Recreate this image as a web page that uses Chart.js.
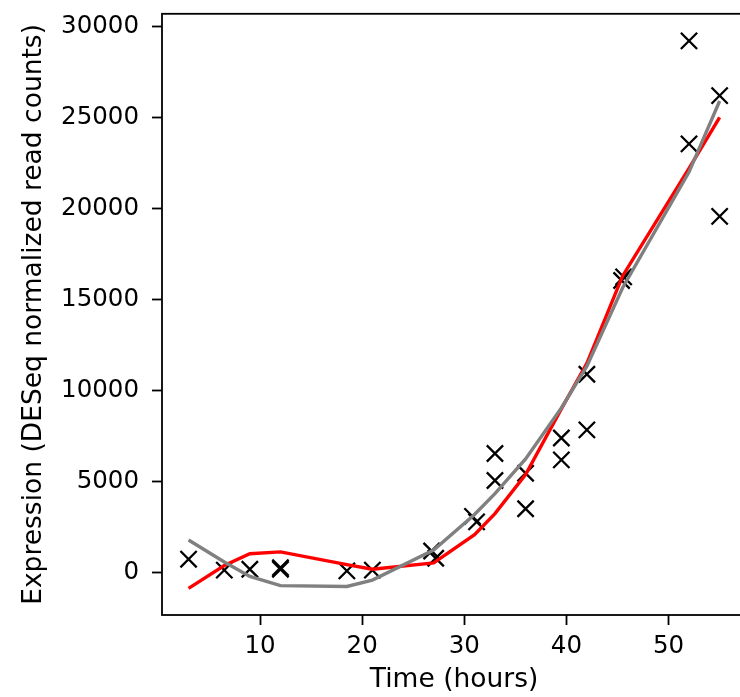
<!DOCTYPE html>
<html>
<head>
<meta charset="utf-8">
<script src="https://cdn.jsdelivr.net/npm/chart.js@4/dist/chart.umd.min.js"></script>
<style>
  html, body { margin: 0; padding: 0; background: #fff; overflow: hidden; width: 740px; height: 697px; }
  #wrap { position: absolute; left: 0; top: 0; }
</style>
</head>
<body>
<div id="wrap"><canvas id="expr" width="760" height="697"></canvas></div>
<script>
// measured replicates (time in hours, DESeq normalized counts)
var obsTimes  = [3, 6.5, 9, 12, 12, 18.5, 21, 26.8, 27.2, 30.8, 31.2, 33, 33, 36, 36, 39.5, 39.5, 42, 42, 45.4, 45.6, 52, 52, 55, 55];
var obsValues = [750, 150, 200, 200, 280, 110, 150, 1200, 800, 3100, 2800, 6550, 5070, 5470, 3520, 7400, 6200, 7850, 10900, 16050, 16250, 29200, 23550, 26200, 19570];

// fitted curves
var fitTimes  = [3, 6.5, 9, 12, 18.5, 21, 27, 31, 33, 36, 39.5, 42, 45.5, 52, 55];
var redFit    = [-850, 400, 1050, 1150, 450, 200, 550, 2100, 3250, 5400, 9000, 11500, 16300, 22200, 25000];
var grayFit   = [1800, 600, -200, -700, -750, -400, 1250, 3200, 4350, 6250, 9050, 11350, 15650, 22000, 25900];

var xTicks = [10, 20, 30, 40, 50];
var yTicks = [0, 5000, 10000, 15000, 20000, 25000, 30000];

function pts(xs, ys) {
  return xs.map(function(x, i){ return {x: x, y: ys[i]}; });
}

var FONT = 'DejaVu Sans';

// draw the full box around the plot area (matplotlib spines)
var frame = {
  id: 'frame',
  afterDatasetsDraw: function(chart) {
    var a = chart.chartArea, ctx = chart.ctx;
    ctx.save();
    ctx.strokeStyle = '#000';
    ctx.lineWidth = 1.8;
    ctx.strokeRect(a.left, a.top, a.right - a.left, a.bottom - a.top);
    ctx.restore();
  }
};

new Chart(document.getElementById('expr').getContext('2d'), {
  type: 'scatter',
  data: {
    datasets: [
      {
        label: 'observed',
        data: pts(obsTimes, obsValues),
        pointStyle: 'crossRot',
        pointRadius: 11.5,
        pointHoverRadius: 11.5,
        borderColor: '#000',
        backgroundColor: '#000',
        pointBorderWidth: 2.3,
        showLine: false,
        order: 3
      },
      {
        label: 'fit red',
        data: pts(fitTimes, redFit),
        showLine: true,
        borderColor: '#ff0000',
        borderWidth: 3.4,
        pointRadius: 0,
        tension: 0,
        order: 2
      },
      {
        label: 'fit gray',
        data: pts(fitTimes, grayFit),
        showLine: true,
        borderColor: '#808080',
        borderWidth: 3.4,
        pointRadius: 0,
        tension: 0,
        order: 1
      }
    ]
  },
  options: {
    responsive: false,
    animation: false,
    devicePixelRatio: 1,
    layout: { padding: { top: 12, left: 0, right: 10, bottom: 0 } },
    plugins: { legend: { display: false }, tooltip: { enabled: false } },
    scales: {
      x: {
        type: 'linear',
        min: 0.4,
        max: 57.6,
        border: { display: false },
        grid: { display: true, drawOnChartArea: false, drawTicks: true, tickLength: 10, tickColor: '#000', tickWidth: 1.8 },
        afterBuildTicks: function(s) { s.ticks = xTicks.map(function(v){ return {value: v}; }); },
        afterFit: function(s) { s.height = 82; s.paddingLeft = 0; s.paddingRight = 0; },
        ticks: { color: '#000', padding: 7, maxRotation: 0, font: { family: FONT, size: 24.5 } },
        title: { display: true, text: 'Time (hours)', color: '#000', padding: { top: 0, bottom: 1 }, font: { family: FONT, size: 26.5, lineHeight: 1.2 } }
      },
      y: {
        type: 'linear',
        min: -2314,
        max: 30689,
        border: { display: false },
        grid: { display: true, drawOnChartArea: false, drawTicks: true, tickLength: 10, tickColor: '#000', tickWidth: 1.8 },
        afterBuildTicks: function(s) { s.ticks = yTicks.map(function(v){ return {value: v}; }); },
        afterFit: function(s) { s.width = 162; s.paddingTop = 0; s.paddingBottom = 0; },
        ticks: { color: '#000', padding: 13, font: { family: FONT, size: 24.5 }, callback: function(v){ return String(v); } },
        title: { display: true, text: 'Expression (DESeq normalized read counts)', color: '#000', padding: { top: 18, bottom: 0 }, font: { family: FONT, size: 26.5, lineHeight: 1.2 } }
      }
    }
  },
  plugins: [frame]
});
</script>
</body>
</html>
